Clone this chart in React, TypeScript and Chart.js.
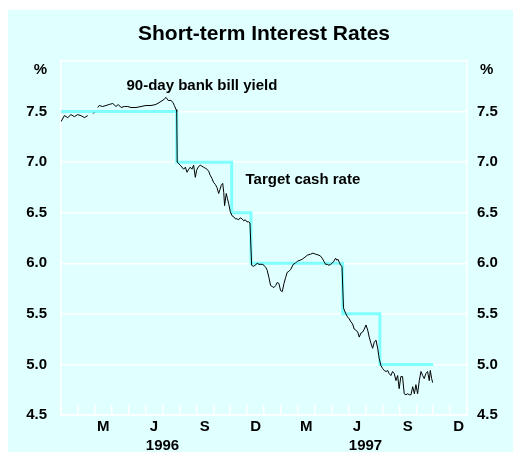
import React, { useEffect, useRef } from 'react';
import { Chart, registerables } from 'chart.js';

Chart.register(...registerables);

// x values are months since 1 January 1996
const billMonths = [
  0.0, 0.2, 0.4, 0.59, 0.79, 0.99, 1.18, 1.38, 1.58, 1.7, 1.9, 1.96, 2.05,
  2.17, 2.26, 2.46, 2.66, 2.85, 3.06, 3.25, 3.39, 3.55, 3.74, 3.94, 4.14, 4.43, 4.73,
  5.02, 5.32, 5.61, 5.91, 6.09, 6.21, 6.34, 6.5, 6.62, 6.7, 6.8, 6.84, 6.87,
  7.05, 7.25, 7.35, 7.45, 7.55, 7.64, 7.74, 7.84, 7.94, 8.02, 8.1, 8.23, 8.33, 8.43,
  8.53, 8.63, 8.73, 8.82, 8.92, 9.02, 9.12, 9.22, 9.32, 9.4, 9.47, 9.56, 9.62, 9.67,
  9.77, 9.84, 9.91, 10.01, 10.11, 10.21, 10.3, 10.4, 10.5, 10.6, 10.7, 10.8, 10.89,
  10.99, 11.09, 11.17,
  11.27, 11.37, 11.47, 11.6, 11.7, 11.9, 12.0, 12.1, 12.19, 12.29, 12.39, 12.49, 12.59,
  12.69, 12.78, 12.88, 12.98, 13.08, 13.18, 13.28, 13.37, 13.47, 13.58, 13.73, 13.85,
  13.97, 14.13, 14.26, 14.42, 14.56, 14.76, 14.89, 15.05, 15.25, 15.35, 15.44, 15.54,
  15.64, 15.74, 15.84, 15.94, 16.03, 16.13, 16.23, 16.31, 16.37, 16.45, 16.53, 16.61,
  16.7, 16.74, 16.84, 16.94, 17.04, 17.14, 17.24, 17.33, 17.43, 17.54, 17.63, 17.73,
  17.83, 17.93, 18.03, 18.13, 18.22, 18.32, 18.42, 18.52, 18.62, 18.72, 18.78, 18.81,
  18.91, 19.01, 19.11, 19.21, 19.31, 19.4, 19.5, 19.6, 19.7, 19.8, 19.9, 19.99, 20.09,
  20.19, 20.29, 20.39, 20.49, 20.59, 20.69, 20.79, 20.89, 20.98, 21.08, 21.18, 21.28,
  21.38, 21.47, 21.57, 21.67, 21.77, 21.83, 21.91, 21.97,
];
const billYield = [
  7.4, 7.46, 7.44, 7.47, 7.45, 7.47, 7.46, 7.44, 7.46, null, 7.48, 7.49, null,
  7.54, 7.56, 7.55, 7.56, 7.57, 7.58, 7.55, 7.57, 7.54, 7.55, 7.55, 7.54, 7.54, 7.55,
  7.56, 7.56, 7.57, 7.6, 7.62, 7.64, 7.61, 7.61, 7.59, 7.56, 7.52, 7.5, 7.0,
  6.97, 6.93, 6.95, 6.9, 6.93, 6.95, 6.93, 6.97, 6.85, 6.92, 6.95, 6.97, 6.96, 6.95,
  6.94, 6.93, 6.91, 6.87, 6.84, 6.8, 6.78, 6.75, 6.69, 6.73, 6.77, 6.79, 6.7, 6.57,
  6.69, 6.64, 6.59, 6.51, 6.47, 6.46, 6.44, 6.44, 6.43, 6.45, 6.44, 6.42, 6.43,
  6.41, 6.41, 6.4,
  5.98, 5.97, 5.98, 6.0, 5.99, 5.99, 5.98, 5.96, 5.93, 5.86, 5.78, 5.77, 5.76,
  5.78, 5.81, 5.8, 5.73, 5.72, 5.8, 5.86, 5.91, 5.92, 5.94, 5.99, 6.0,
  6.02, 6.03, 6.04, 6.06, 6.08, 6.09, 6.1, 6.09, 6.08, 6.07, 6.05, 6.02,
  5.99, 5.99, 5.98, 5.99, 6.0, 6.02, 6.05, 6.03, 6.04, 6.01, 5.98, 5.97,
  5.56, 5.54, 5.5, 5.47, 5.45, 5.42, 5.4, 5.35, 5.34, 5.32, 5.27, 5.31,
  5.32, 5.35, 5.39, 5.34, 5.27, 5.21, 5.16, 5.22, 5.24, 5.16, 5.09, 5.06,
  4.99, 4.96, 4.94, 4.93, 4.94, 4.91, 4.89, 4.93, 4.91, 4.84, 4.89, 4.76, 4.88,
  4.88, 4.71, 4.7, 4.71, 4.7, 4.7, 4.78, 4.71, 4.8, 4.71, 4.84, 4.93,
  4.89, 4.86, 4.91, 4.93, 4.84, 4.94, 4.86, 4.82,
];

const cashMonths = [0, 6.84, 10.09, 11.23, 16.65, 18.85, 22.0];
const cashRate = [7.5, 7.0, 6.5, 6.0, 5.5, 5.0, 5.0];

const quarterPos = [2.5, 5.5, 8.5, 11.5, 14.5, 17.5, 20.5, 23.5];
const quarterLabels = ['M', 'J', 'S', 'D', 'M', 'J', 'S', 'D'];
const yearPos = [6, 18];
const yearLabels = ['1996', '1997'];

const titleText = 'Short-term Interest Rates';
const billLabel = '90-day bank bill yield';
const billLabelAt = [8.33, 7.757];
const cashLabel = 'Target cash rate';
const cashLabelAt = [14.3, 6.82];
const unitLabel = '%';
const unitLabelAt = 7.91;

const FONT = 'Arial, "Liberation Sans", Helvetica, sans-serif';
const BG = '#e0ffff';
const CYAN = '#80ffff';

const annotations = {
  id: 'annotations',
  afterDatasetsDraw(chart: any) {
    const { ctx, scales } = chart;
    const x = scales.x;
    const y = scales.y;
    const y2 = scales.y2;
    ctx.save();
    ctx.fillStyle = '#000';
    ctx.font = `bold 15px ${FONT}`;
    ctx.textBaseline = 'middle';
    ctx.textAlign = 'center';
    ctx.fillText(billLabel, x.getPixelForValue(billLabelAt[0]), y.getPixelForValue(billLabelAt[1]));
    ctx.fillText(cashLabel, x.getPixelForValue(cashLabelAt[0]), y.getPixelForValue(cashLabelAt[1]));
    ctx.textAlign = 'right';
    ctx.fillText(unitLabel, y.right - 14, y.getPixelForValue(unitLabelAt));
    ctx.textAlign = 'left';
    ctx.fillText(unitLabel, y2.left + 13, y.getPixelForValue(unitLabelAt));
    ctx.restore();
  },
};

export default function App() {
  const ref = useRef<HTMLCanvasElement | null>(null);

  useEffect(() => {
    if (!ref.current) return;
    const tickFont = { family: FONT, size: 15, weight: 'bold' as const };
    const chart = new Chart(ref.current, {
      type: 'line',
      data: {
        datasets: [
          {
            label: billLabel,
            data: billMonths.map((m, i) => ({ x: m, y: billYield[i] })),
            borderColor: '#000',
            borderWidth: 1,
            pointRadius: 0,
            tension: 0,
            spanGaps: false,
          },
          {
            label: cashLabel,
            data: cashMonths.map((m, i) => ({ x: m, y: cashRate[i] })),
            borderColor: CYAN,
            borderWidth: 3,
            pointRadius: 0,
            stepped: true,
          },
        ],
      },
      options: {
        animation: false,
        responsive: false,
        maintainAspectRatio: false,
        layout: { padding: 0 },
        plugins: {
          legend: { display: false },
          tooltip: { enabled: false },
          title: {
            display: true,
            text: titleText,
            fullSize: false,
            color: '#000',
            font: { family: FONT, size: 21, weight: 'bold' },
            padding: { top: 12, bottom: 13.8 },
          },
        },
        scales: {
          x: {
            type: 'linear',
            position: 'bottom',
            weight: 0,
            min: 0,
            max: 24,
            ticks: { display: false, stepSize: 1 },
            grid: {
              display: true,
              drawOnChartArea: false,
              drawTicks: true,
              tickLength: -10,
              color: '#ffffff',
              lineWidth: 1.5,
            },
            border: { display: true, color: '#ffffff', width: 1.5 },
            afterFit: (s: any) => { s.height = 0; },
          },
          xm: {
            type: 'linear',
            position: 'bottom',
            weight: 1,
            min: 0,
            max: 24,
            afterBuildTicks: (s: any) => { s.ticks = quarterPos.map((v) => ({ value: v })); },
            ticks: {
              autoSkip: false,
              maxRotation: 0,
              padding: 3,
              color: '#000',
              font: tickFont,
              callback: (v: any) => quarterLabels[quarterPos.indexOf(Number(v))] ?? '',
            },
            grid: { display: false, drawTicks: false },
            border: { display: false },
            afterFit: (s: any) => { s.height = 18; },
          },
          xy: {
            type: 'linear',
            position: 'bottom',
            weight: 2,
            min: 0,
            max: 24,
            afterBuildTicks: (s: any) => { s.ticks = yearPos.map((v) => ({ value: v })); },
            ticks: {
              autoSkip: false,
              maxRotation: 0,
              padding: 3.4,
              color: '#000',
              font: tickFont,
              callback: (v: any) => yearLabels[yearPos.indexOf(Number(v))] ?? '',
            },
            grid: { display: false, drawTicks: false },
            border: { display: false },
            afterFit: (s: any) => { s.height = 19; },
          },
          y: {
            type: 'linear',
            position: 'left',
            min: 4.5,
            max: 8,
            ticks: {
              stepSize: 0.5,
              padding: 14,
              color: '#000',
              font: tickFont,
              callback: (v: any) => (Number(v) >= 8 ? '' : Number(v).toFixed(1)),
            },
            grid: { color: '#ffffff', lineWidth: 1.5, drawTicks: false },
            border: { display: true, color: '#ffffff', width: 1.5 },
            afterFit: (s: any) => { s.width = 53; },
          },
          y2: {
            type: 'linear',
            position: 'right',
            min: 4.5,
            max: 8,
            ticks: {
              stepSize: 0.5,
              padding: 10,
              color: '#000',
              font: tickFont,
              callback: (v: any) => (Number(v) >= 8 ? '' : Number(v).toFixed(1)),
            },
            grid: { drawOnChartArea: false, drawTicks: false },
            border: { display: true, color: '#ffffff', width: 1.5 },
            afterFit: (s: any) => { s.width = 46; },
          },
        },
      },
      plugins: [annotations],
    });
    return () => chart.destroy();
  }, []);

  return (
    <div
      style={{
        position: 'absolute',
        left: 8,
        top: 10,
        width: 505,
        height: 442,
        background: BG,
        overflow: 'hidden',
      }}
    >
      <canvas ref={ref} width={505} height={442} style={{ display: 'block', width: 505, height: 442 }} />
    </div>
  );
}
